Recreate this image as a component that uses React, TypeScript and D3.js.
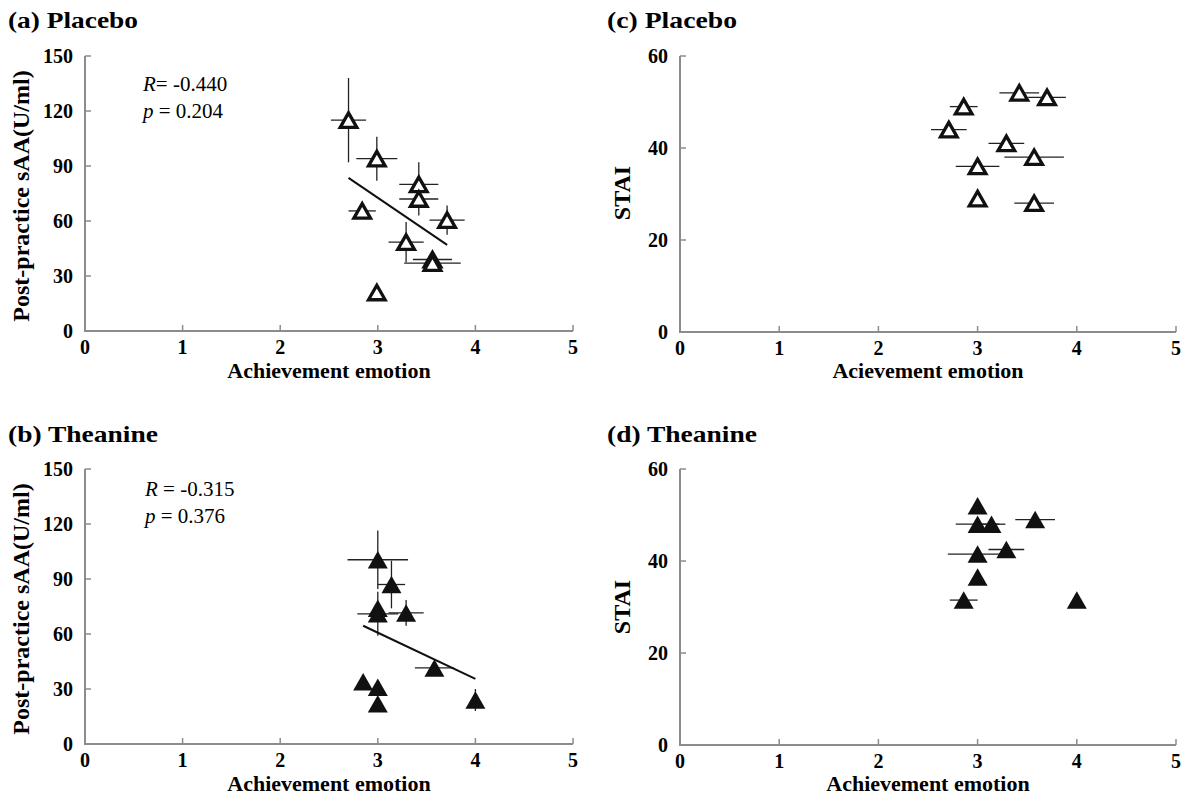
import * as d3 from "d3";

// x = achievement emotion score, y = sAA (U/ml) or STAI, with SE bars
const placeboEmotion = [2.7, 2.99, 3.42, 3.42, 2.84, 3.71, 3.29, 3.56, 3.56, 2.99];
const placeboEmotionErr = [0.18, 0.21, 0.2, 0.2, 0.14, 0.18, 0.18, 0.2, 0.29, 0];
const placeboSAA = [115, 94, 80, 72, 65.5, 60.5, 48.5, 39, 37, 21];
const placeboSAAErr = [23, 12, 12, 9, 0, 8, 11, 0, 0, 0];

const theanineEmotion = [3.0, 3.14, 3.0, 3.0, 3.29, 3.58, 2.85, 3.0, 3.0, 4.0];
const theanineEmotionErr = [0.31, 0.14, 0, 0.21, 0.18, 0.2, 0, 0, 0, 0];
const theanineSAA = [100.5, 87, 74, 71, 71.5, 41.5, 34, 31, 22, 24];
const theanineSAAErr = [16, 13, 0, 12, 7, 0, 0, 0, 0, 6];

const placeboStaiEmotion = [3.42, 3.7, 2.86, 2.71, 3.29, 3.57, 3.0, 3.0, 3.57];
const placeboStaiEmotionErr = [0.2, 0.19, 0.14, 0.18, 0.18, 0.3, 0.22, 0, 0.2];
const placeboSTAI = [52, 51, 49, 44, 41, 38, 36, 29, 28];

const theanineStaiEmotion = [3.0, 3.0, 3.14, 3.58, 3.0, 3.29, 3.0, 2.86, 4.0];
const theanineStaiEmotionErr = [0, 0.22, 0.14, 0.2, 0.3, 0.18, 0, 0.14, 0];
const theanineSTAI = [52, 48, 48, 49, 41.5, 42.5, 36.5, 31.5, 31.5];

// regression line end points
const fitPlaceboX = [2.7, 3.71];
const fitPlaceboY = [83.5, 47];
const fitTheanineX = [2.85, 4.0];
const fitTheanineY = [64.5, 35.5];

const xTicks = [0, 1, 2, 3, 4, 5];
const saaTicks = [0, 30, 60, 90, 120, 150];
const staiTicks = [0, 20, 40, 60];

const serif = "'Liberation Serif', 'Times New Roman', serif";
const axisColor = "#8c8c8c";

const zip = (xs, ys, xe, ye) =>
  xs.map((x, i) => ({ x, y: ys[i], xe: xe ? xe[i] : 0, ye: ye ? ye[i] : 0 }));

const panels = [
  {
    title: "(a) Placebo", titleX: 8, titleY: 28, titleW: 130,
    xr: [85, 573], yr: [331, 56], yMax: 150, yTicks: saaTicks,
    pts: zip(placeboEmotion, placeboSAA, placeboEmotionErr, placeboSAAErr),
    filled: false, fit: { x: fitPlaceboX, y: fitPlaceboY },
    stats: { r: "= -0.440", p: "= 0.204", x: 143, y: 91 },
    xLabel: "Achievement emotion", xLabelY: 378,
    yLabel: "Post-practice sAA(U/ml)", yLabelX: 29, yLabelC: 196,
  },
  {
    title: "(b) Theanine", titleX: 8, titleY: 442, titleW: 150,
    xr: [85, 573], yr: [744, 469], yMax: 150, yTicks: saaTicks,
    pts: zip(theanineEmotion, theanineSAA, theanineEmotionErr, theanineSAAErr),
    filled: true, fit: { x: fitTheanineX, y: fitTheanineY },
    stats: { r: " = -0.315", p: "= 0.376", x: 145, y: 496 },
    xLabel: "Achievement emotion", xLabelY: 791,
    yLabel: "Post-practice sAA(U/ml)", yLabelX: 29, yLabelC: 609,
  },
  {
    title: "(c) Placebo", titleX: 607, titleY: 28, titleW: 130,
    xr: [680, 1176], yr: [332, 56], yMax: 60, yTicks: staiTicks,
    pts: zip(placeboStaiEmotion, placeboSTAI, placeboStaiEmotionErr, null),
    filled: false, fit: null, stats: null,
    xLabel: "Acievement emotion", xLabelY: 378,
    yLabel: "STAI", yLabelX: 630, yLabelC: 193,
  },
  {
    title: "(d) Theanine", titleX: 607, titleY: 442, titleW: 150,
    xr: [680, 1176], yr: [745, 469], yMax: 60, yTicks: staiTicks,
    pts: zip(theanineStaiEmotion, theanineSTAI, theanineStaiEmotionErr, null),
    filled: true, fit: null, stats: null,
    xLabel: "Achievement emotion", xLabelY: 791,
    yLabel: "STAI", yLabelX: 630, yLabelC: 607,
  },
];

function triangle(cx, cy, w, h) {
  const p = d3.path();
  p.moveTo(cx, cy - h / 2);
  p.lineTo(cx + w, cy + h / 2);
  p.lineTo(cx - w, cy + h / 2);
  p.closePath();
  return p.toString();
}

function Panel({ cfg }) {
  const x = d3.scaleLinear().domain([0, 5]).range(cfg.xr);
  const y = d3.scaleLinear().domain([0, cfg.yMax]).range(cfg.yr);
  const [x0, x1] = cfg.xr;
  const [y0, y1] = cfg.yr;
  const fitLine = cfg.fit
    ? d3.line()(cfg.fit.x.map((v, i) => [x(v), y(cfg.fit.y[i])]))
    : null;

  return (
    <g fontFamily={serif}>
      <text x={cfg.titleX} y={cfg.titleY} fontSize={24} fontWeight="bold"
        textLength={cfg.titleW} lengthAdjust="spacingAndGlyphs">{cfg.title}</text>

      {/* axes */}
      <path d={`M${x0},${y1}V${y0}H${x1}`} fill="none" stroke={axisColor} strokeWidth={2} />
      {cfg.yTicks.map((t) => (
        <g key={"y" + t}>
          {t > 0 && <line x1={x0} x2={x0 + 6} y1={y(t)} y2={y(t)} stroke={axisColor} strokeWidth={1.5} />}
          <text x={x0 - 12} y={y(t)} dy="0.35em" textAnchor="end" fontSize={20} fontWeight="bold">{t}</text>
        </g>
      ))}
      {xTicks.map((t) => (
        <g key={"x" + t}>
          {t > 0 && <line x1={x(t)} x2={x(t)} y1={y0} y2={y0 - 6} stroke={axisColor} strokeWidth={1.5} />}
          <text x={x(t)} y={y0 + 23} textAnchor="middle" fontSize={20} fontWeight="bold">{t}</text>
        </g>
      ))}
      <text x={(x0 + x1) / 2} y={cfg.xLabelY} textAnchor="middle" fontSize={22} fontWeight="bold">{cfg.xLabel}</text>
      <text transform={`translate(${cfg.yLabelX},${cfg.yLabelC}) rotate(-90)`} textAnchor="middle"
        fontSize={24} fontWeight="bold">{cfg.yLabel}</text>

      {/* error bars */}
      {cfg.pts.map((d, i) => (
        <g key={"e" + i} stroke="#222" strokeWidth={1.3}>
          {d.xe > 0 && <line x1={x(d.x - d.xe)} x2={x(d.x + d.xe)} y1={y(d.y)} y2={y(d.y)} />}
          {d.ye > 0 && <line x1={x(d.x)} x2={x(d.x)} y1={y(d.y - d.ye)} y2={y(d.y + d.ye)} />}
        </g>
      ))}

      {fitLine && <path d={fitLine} fill="none" stroke="#111" strokeWidth={2} />}

      {/* markers */}
      {cfg.pts.map((d, i) =>
        cfg.filled ? (
          <path key={"m" + i} d={triangle(x(d.x), y(d.y), 10, 17.5)} fill="#111" />
        ) : (
          <path key={"m" + i} d={triangle(x(d.x), y(d.y), 8.3, 14.5)} fill="#fff" stroke="#111"
            strokeWidth={3.3} strokeLinejoin="miter" />
        )
      )}

      {cfg.stats && (
        <g fontSize={21}>
          <text x={cfg.stats.x} y={cfg.stats.y}>
            <tspan fontStyle="italic">R</tspan>{cfg.stats.r}
          </text>
          <text x={cfg.stats.x} y={cfg.stats.y + 27}>
            <tspan fontStyle="italic">p</tspan> {cfg.stats.p}
          </text>
        </g>
      )}
    </g>
  );
}

export default function App() {
  return (
    <svg width={1189} height={806} style={{ position: "absolute", left: 0, top: 0, background: "#fff" }}>
      <rect width={1189} height={806} fill="#fff" />
      {panels.map((p) => (
        <Panel key={p.title} cfg={p} />
      ))}
    </svg>
  );
}
